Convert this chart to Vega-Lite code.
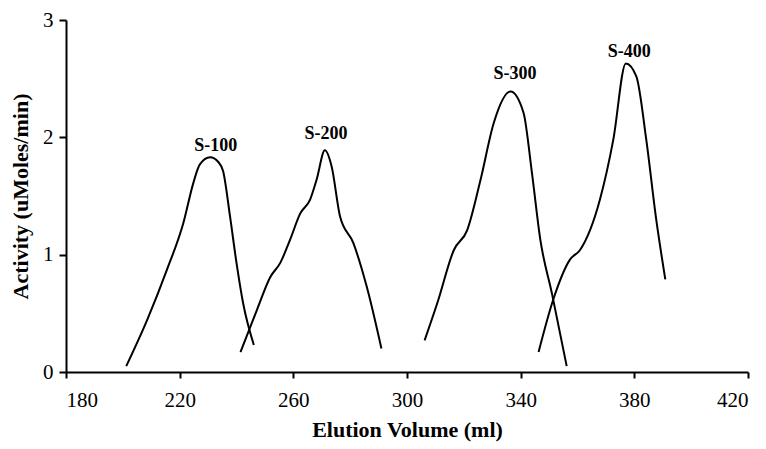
{
  "$schema": "https://vega.github.io/schema/vega-lite/v6.json",
  "width": 682,
  "height": 352,
  "autosize": "none",
  "padding": {"left": 66, "top": 20, "right": 18, "bottom": 77},
  "background": "white",
  "config": {
    "view": {"stroke": null},
    "font": "Liberation Serif"
  },
  "datasets": {
    "curves": [
      {"series": "S-100", "x": 201.2, "y": 0.05},
      {"series": "S-100", "x": 208.5, "y": 0.44},
      {"series": "S-100", "x": 215.5, "y": 0.87},
      {"series": "S-100", "x": 221.3, "y": 1.27},
      {"series": "S-100", "x": 224.8, "y": 1.61},
      {"series": "S-100", "x": 227.1, "y": 1.77},
      {"series": "S-100", "x": 230.7, "y": 1.83},
      {"series": "S-100", "x": 233.6, "y": 1.79},
      {"series": "S-100", "x": 235.3, "y": 1.71},
      {"series": "S-100", "x": 237.7, "y": 1.33},
      {"series": "S-100", "x": 240.0, "y": 0.93},
      {"series": "S-100", "x": 242.3, "y": 0.59},
      {"series": "S-100", "x": 246.1, "y": 0.23},
      {"series": "S-200", "x": 241.4, "y": 0.17},
      {"series": "S-200", "x": 247.2, "y": 0.53},
      {"series": "S-200", "x": 251.9, "y": 0.81},
      {"series": "S-200", "x": 255.4, "y": 0.93},
      {"series": "S-200", "x": 258.9, "y": 1.13},
      {"series": "S-200", "x": 262.4, "y": 1.35},
      {"series": "S-200", "x": 265.9, "y": 1.47},
      {"series": "S-200", "x": 268.2, "y": 1.64},
      {"series": "S-200", "x": 271.1, "y": 1.89},
      {"series": "S-200", "x": 273.5, "y": 1.75},
      {"series": "S-200", "x": 276.4, "y": 1.33},
      {"series": "S-200", "x": 281.1, "y": 1.10},
      {"series": "S-200", "x": 285.8, "y": 0.73},
      {"series": "S-200", "x": 291.0, "y": 0.20},
      {"series": "S-300", "x": 306.2, "y": 0.27},
      {"series": "S-300", "x": 310.7, "y": 0.59},
      {"series": "S-300", "x": 316.5, "y": 1.04},
      {"series": "S-300", "x": 321.2, "y": 1.21},
      {"series": "S-300", "x": 325.9, "y": 1.64},
      {"series": "S-300", "x": 330.5, "y": 2.12},
      {"series": "S-300", "x": 336.4, "y": 2.39},
      {"series": "S-300", "x": 341.0, "y": 2.21},
      {"series": "S-300", "x": 344.0, "y": 1.69},
      {"series": "S-300", "x": 346.9, "y": 1.13},
      {"series": "S-300", "x": 351.0, "y": 0.67},
      {"series": "S-300", "x": 356.2, "y": 0.05},
      {"series": "S-400", "x": 346.3, "y": 0.17},
      {"series": "S-400", "x": 351.5, "y": 0.62},
      {"series": "S-400", "x": 357.4, "y": 0.96},
      {"series": "S-400", "x": 360.9, "y": 1.04},
      {"series": "S-400", "x": 367.9, "y": 1.47},
      {"series": "S-400", "x": 372.6, "y": 1.98},
      {"series": "S-400", "x": 377.0, "y": 2.63},
      {"series": "S-400", "x": 380.7, "y": 2.52},
      {"series": "S-400", "x": 384.2, "y": 1.98},
      {"series": "S-400", "x": 387.7, "y": 1.30},
      {"series": "S-400", "x": 390.9, "y": 0.79}
    ],
    "labels": [
      {"label": "S-100", "x": 232.7, "y": 1.93},
      {"label": "S-200", "x": 271.5, "y": 2.03},
      {"label": "S-300", "x": 338.0, "y": 2.54},
      {"label": "S-400", "x": 378.2, "y": 2.73}
    ]
  },
  "layer": [
    {
      "data": {"name": "curves"},
      "mark": {"type": "line", "interpolate": "monotone", "color": "black", "strokeWidth": 2},
      "encoding": {
        "x": {
          "field": "x", "type": "quantitative",
          "scale": {"domain": [180, 420], "nice": false, "zero": false},
          "axis": {
            "title": "Elution Volume (ml)",
            "values": [180, 220, 260, 300, 340, 380, 420],
            "format": "d",
            "grid": false,
            "domainColor": "black", "domainWidth": 2,
            "tickColor": "black", "tickWidth": 2, "tickSize": 6,
            "labelFont": "Liberation Serif", "labelFontSize": 21, "labelColor": "black",
            "labelPadding": 11,
            "titleFont": "Liberation Serif", "titleFontSize": 22, "titleFontWeight": "bold", "titleColor": "black",
            "titlePadding": 9
          }
        },
        "y": {
          "field": "y", "type": "quantitative",
          "scale": {"domain": [0, 3], "nice": false},
          "axis": {
            "title": "Activity (uMoles/min)",
            "values": [0, 1, 2, 3],
            "format": "d",
            "grid": false,
            "domainColor": "black", "domainWidth": 2,
            "tickColor": "black", "tickWidth": 2, "tickSize": 7,
            "labelFont": "Liberation Serif", "labelFontSize": 21, "labelColor": "black",
            "labelPadding": 6,
            "titleFont": "Liberation Serif", "titleFontSize": 22, "titleFontWeight": "bold", "titleColor": "black",
            "titlePadding": 10
          }
        },
        "detail": {"field": "series", "type": "nominal"}
      }
    },
    {
      "data": {"name": "labels"},
      "mark": {"type": "text", "font": "Liberation Serif", "fontSize": 18, "fontWeight": "bold", "color": "black", "baseline": "middle", "align": "center"},
      "encoding": {
        "x": {"field": "x", "type": "quantitative"},
        "y": {"field": "y", "type": "quantitative"},
        "text": {"field": "label", "type": "nominal"}
      }
    }
  ]
}
